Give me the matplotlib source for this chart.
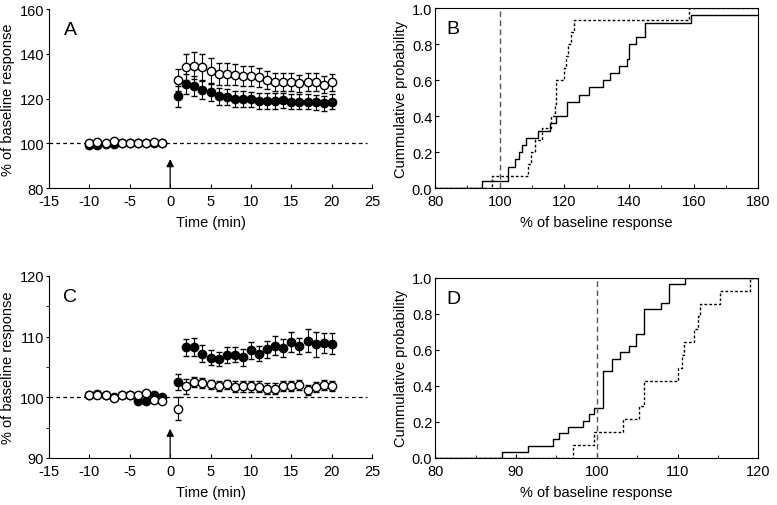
import numpy as np
import matplotlib.pyplot as plt
from matplotlib.ticker import MultipleLocator

plt.rcParams['font.family'] = ['Liberation Sans', 'DejaVu Sans']
plt.rcParams['axes.unicode_minus'] = False

# panel A: time course (min), mean and SEM
t_pre = [-10, -9, -8, -7, -6, -5, -4, -3, -2, -1]
t_post = list(range(1, 21))

a_closed_pre = [99.4, 99.2, 99.8, 99.6, 100.0, 100.2, 100.0, 100.0, 100.2, 100.0]
a_open_pre = [100.2, 100.8, 100.2, 101.0, 100.0, 100.4, 100.0, 100.0, 100.6, 100.2]
a_closed_post = [121.0, 126.5, 125.8, 124.0, 122.8, 121.0, 120.6, 119.8, 119.9, 119.8,
                 119.0, 119.0, 119.0, 119.3, 118.6, 118.6, 118.6, 118.3, 118.0, 118.6]
a_closed_err = [4.5, 4.5, 4.5, 4.0, 3.8, 3.6, 3.6, 3.6, 3.4, 3.4,
                3.4, 3.4, 3.4, 3.4, 3.4, 3.4, 3.4, 3.4, 3.4, 3.4]
a_open_post = [128.3, 134.0, 134.7, 134.3, 132.5, 131.0, 131.0, 130.7, 130.0, 130.0,
               129.5, 128.5, 127.6, 127.6, 127.3, 126.8, 127.3, 127.3, 126.2, 127.3]
a_open_err = [4.8, 5.8, 6.0, 5.8, 5.5, 4.8, 4.8, 4.6, 4.4, 4.4,
              4.2, 4.0, 4.0, 4.0, 4.0, 4.0, 4.0, 4.0, 3.8, 3.8]

# panel C
c_closed_pre = [100.4, 100.6, 100.3, 100.0, 100.4, 100.4, 99.4, 99.4, 100.4, 100.0]
c_open_pre = [100.4, 100.3, 100.3, 99.9, 100.3, 100.3, 100.3, 100.7, 99.6, 99.4]
c_closed_post = [102.5, 108.2, 108.3, 107.2, 106.5, 106.3, 107.0, 107.0, 106.6, 107.7,
                 107.2, 107.9, 108.5, 108.1, 109.1, 108.4, 109.3, 108.7, 108.9, 108.8]
c_closed_err = [1.3, 1.4, 1.5, 1.4, 1.2, 1.2, 1.3, 1.2, 1.4, 1.4,
                1.3, 1.4, 1.6, 1.5, 1.7, 1.3, 1.9, 2.0, 1.6, 1.7]
c_open_post = [98.1, 101.8, 102.5, 102.3, 102.1, 101.9, 102.1, 101.7, 101.8, 101.8,
               101.7, 101.4, 101.4, 101.8, 101.9, 102.0, 101.2, 101.7, 102.0, 101.8]
c_open_err = [1.9, 1.2, 0.8, 0.8, 0.8, 0.8, 0.8, 0.9, 0.9, 0.9,
              0.9, 0.9, 0.9, 0.8, 0.8, 0.8, 0.8, 0.8, 0.8, 0.8]

# panel B: individual responses (% of baseline)
b_solid = [94.6, 102.7, 102.7, 104.7, 105.8, 107.0, 108.1, 111.8, 115.6, 117.3,
           120.7, 120.7, 124.5, 127.7, 132.0, 134.0, 137.0, 139.3, 139.9, 139.9,
           142.2, 145.0, 145.0, 159.3, 185.0]
b_dashed = [97.6, 108.8, 109.7, 111.0, 113.2, 115.8, 117.0, 117.5, 117.5, 120.0,
            120.5, 121.0, 122.0, 123.0, 158.6]

# panel D
d_solid = [88.3, 91.5, 94.6, 95.3, 96.5, 98.3, 99.0, 99.7, 100.8, 100.8,
           100.8, 100.8, 100.8, 100.8, 101.9, 101.9, 102.9, 104.0, 104.8, 104.8,
           105.9, 105.9, 105.9, 105.9, 107.9, 108.9, 108.9, 108.9, 110.9]
d_dashed = [97.1, 99.6, 103.3, 105.2, 105.9, 105.9, 110.1, 110.5, 110.8, 112.0,
            112.5, 112.8, 115.3, 119.0]


def time_panel(ax, ylim, ymajor, yminor, closed_pre, open_pre, closed_post, closed_err,
               open_post, open_err, arrow_top, label):
    ax.plot([-15, 24.3], [100, 100], '--', color='black', lw=0.9, dashes=(3, 2.5), zorder=1)
    x_all = t_pre + t_post
    closed = closed_pre + closed_post
    opened = open_pre + open_post
    cerr = [0.4] * 10 + closed_err
    oerr = [0.4] * 10 + open_err
    kw = dict(fmt='o', ms=6, mec='black', mew=1.0, ecolor='black', elinewidth=0.8,
              capsize=2, capthick=0.8)
    ax.errorbar(x_all, closed, yerr=cerr, mfc='black', zorder=3, **kw)
    ax.errorbar(x_all, opened, yerr=oerr, mfc='white', zorder=4, **kw)
    ax.annotate('', xy=(0, arrow_top), xytext=(0, ylim[0]),
                arrowprops=dict(arrowstyle='-|>', color='black', lw=0.9,
                                mutation_scale=11, shrinkA=0, shrinkB=0))
    ax.set_xlim(-15, 25)
    ax.set_ylim(*ylim)
    ax.xaxis.set_major_locator(MultipleLocator(5))
    ax.yaxis.set_major_locator(MultipleLocator(ymajor))
    if yminor:
        ax.yaxis.set_minor_locator(MultipleLocator(yminor))
    ax.spines['top'].set_visible(False)
    ax.spines['right'].set_visible(False)
    ax.tick_params(axis='x', direction='in', length=3, labelsize=10.5, pad=4.5)
    ax.tick_params(axis='y', direction='out', length=2.5, labelsize=10.5, pad=1)
    ax.tick_params(axis='y', which='minor', direction='out', length=2)
    ax.set_xlabel('Time (min)', fontsize=10.5, labelpad=5)
    ax.set_ylabel('% of baseline response', fontsize=10.5, labelpad=3)
    ax.text(0.045, 0.86, label, transform=ax.transAxes, fontsize=14)


def cdf_panel(ax, xlim, solid, dashed, label, xminor):
    for vals, ls in [(solid, '-'), (dashed, '--')]:
        v = np.sort(vals)
        p = np.arange(1, len(v) + 1) / len(v)
        xs = np.concatenate([[xlim[0]], v, [xlim[1] + 10]])
        ys = np.concatenate([[0], p, [p[-1]]])
        if ls == '-':
            ax.step(xs, ys, where='post', color='black', lw=1.0)
        else:
            ax.step(xs, ys, where='post', color='black', lw=1.0, ls='--', dashes=(2, 1.5))
    ax.axvline(100, color='#555555', lw=1.0, ls='--', dashes=(4, 2.5))
    ax.set_xlim(*xlim)
    ax.set_ylim(0, 1.0)
    ax.xaxis.set_minor_locator(MultipleLocator(xminor))
    ax.yaxis.set_major_locator(MultipleLocator(0.2))
    ax.yaxis.set_major_formatter(plt.FormatStrFormatter('%.1f'))
    ax.tick_params(axis='x', direction='in', length=3, labelsize=10.5, pad=4.5)
    ax.tick_params(axis='y', direction='in', length=3, labelsize=10.5, pad=2)
    ax.tick_params(axis='x', which='minor', direction='in', length=2)
    ax.set_xlabel('% of baseline response', fontsize=10.5, labelpad=5)
    ax.set_ylabel('Cummulative probability', fontsize=10.5, labelpad=3)
    ax.text(0.035, 0.86, label, transform=ax.transAxes, fontsize=14)


fig = plt.figure(figsize=(7.77, 5.06), dpi=100)
ax_a = fig.add_axes([0.063, 0.626, 0.416, 0.354])
ax_b = fig.add_axes([0.560, 0.626, 0.416, 0.356])
ax_c = fig.add_axes([0.063, 0.093, 0.416, 0.360])
ax_d = fig.add_axes([0.560, 0.093, 0.416, 0.356])

time_panel(ax_a, (80, 160), 20, None, a_closed_pre, a_open_pre, a_closed_post, a_closed_err,
           a_open_post, a_open_err, 93, 'A')
time_panel(ax_c, (90, 120), 10, 5, c_closed_pre, c_open_pre, c_closed_post, c_closed_err,
           c_open_post, c_open_err, 94.8, 'C')
cdf_panel(ax_b, (80, 180), b_solid, b_dashed, 'B', 10)
cdf_panel(ax_d, (80, 120), d_solid, d_dashed, 'D', 5)

fig.savefig('out.png', dpi=100)
